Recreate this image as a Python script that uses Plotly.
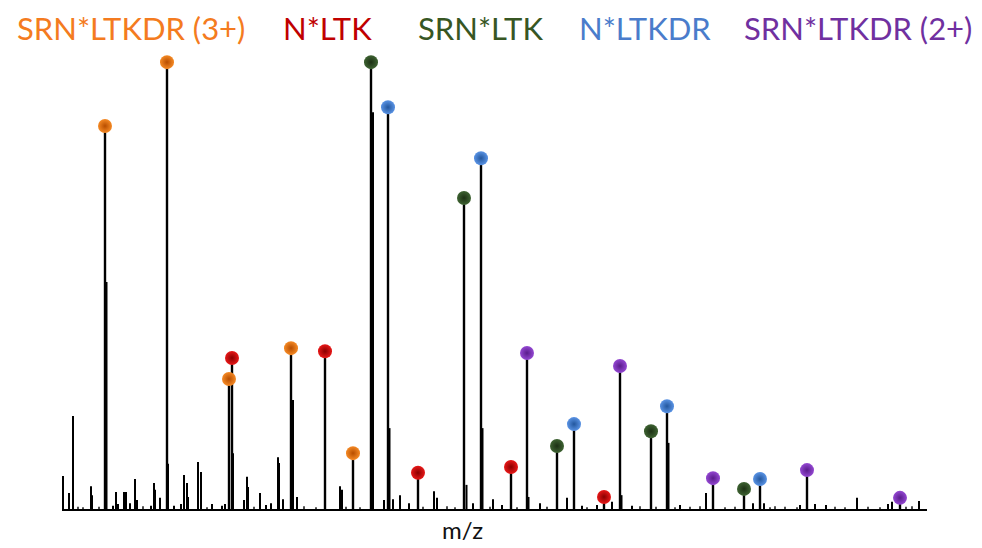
import plotly.graph_objects as go

# ---- Data (m/z in arbitrary units, relative intensity %) ----
series_names = ["SRN*LTKDR (3+)", "N*LTK", "SRN*LTK", "N*LTKDR", "SRN*LTKDR (2+)"]
series_text_colors = ["#F47B20", "#C00000", "#375623", "#4A7CCB", "#7030A0"]
series_dot_colors = ["#F58A25", "#E81818", "#3E6332", "#5A93E4", "#9448D2"]
series_dot_dark = ["#B84E00", "#8A0000", "#1C3014", "#23579E", "#5A1C8C"]

orange_mz = [405, 467, 529, 591, 653]
orange_int = [85.7, 100.0, 29.1, 36.0, 12.5]
red_mz = [532, 625, 718, 811, 904]
red_int = [33.8, 35.3, 8.1, 9.4, 2.7]
green_mz = [671, 764, 857, 951, 1044]
green_int = [100.0, 69.6, 14.1, 17.4, 4.5]
blue_mz = [688, 781, 874, 967, 1060]
blue_int = [89.9, 78.5, 19.0, 23.0, 6.7]
purple_mz = [827, 920, 1013, 1107, 1200]
purple_int = [34.9, 32.0, 6.9, 8.7, 2.5]

iso_mz = [406.5, 468, 533, 593, 673, 689.5, 766.5, 782.5, 828.5, 921.5, 968.5]
iso_int = [50.8, 10.1, 12.5, 24.4, 88.8, 18.1, 5.4, 18.1, 2.7, 3.1, 14.8]

minor_mz = [363, 369, 373, 391, 392, 413, 416, 418, 424, 426, 430, 435, 437, 451, 454,
            455, 460, 474, 481, 484, 487, 488, 498, 501, 512, 522, 525, 544, 547, 548,
            560, 566, 571, 578, 579, 583, 597, 640, 642, 684, 693, 700, 709, 734, 737,
            773, 793, 802, 840, 867, 882, 897, 912, 932, 980, 1006, 1053, 1064, 1100,
            1115, 1126, 1157, 1188, 1192, 1219]
minor_int = [7.4, 3.6, 20.8, 5.1, 3.1, 0.7, 3.8, 1.1, 3.8, 3.8, 1.3, 6.7, 2.0, 0.7, 5.8,
             4.3, 2.5, 0.7, 1.1, 7.6, 5.8, 2.7, 10.5, 8.3, 1.1, 0.7, 1.1, 2.0, 7.2, 4.9,
             3.6, 0.9, 1.3, 11.6, 10.3, 2.2, 2.7, 5.1, 4.3, 2.0, 2.2, 3.1, 1.3, 4.0, 2.5,
             1.3, 2.2, 0.9, 1.3, 2.5, 0.7, 0.9, 1.6, 0.7, 0.9, 3.6, 1.3, 1.3, 0.9,
             1.1, 0.9, 2.5, 1.1, 1.6, 1.8]

noise_mz = [378, 383, 399, 443, 507, 554, 604, 616, 646, 660, 723, 747, 755, 790, 817,
            847, 887, 940, 956, 975, 990, 1000, 1025, 1035, 1070, 1075, 1085, 1097, 1135,
            1145, 1168, 1180, 1206, 1212]
noise_int = [0.5, 0.4, 0.5, 0.6, 0.4, 0.5, 0.6, 0.4, 0.5, 0.4, 0.5, 0.6, 0.4, 0.5, 0.4,
             0.5, 0.4, 0.6, 0.5, 0.4, 0.5, 0.6, 0.4, 0.5, 0.4, 0.6, 0.5, 0.4, 0.5,
             0.4, 0.5, 0.4, 0.5, 0.6]

axis_label = "m/z"

series_mz = [orange_mz, red_mz, green_mz, blue_mz, purple_mz]
series_int = [orange_int, red_int, green_int, blue_int, purple_int]


def sticks(mz_list, int_list):
    xs, ys = [], []
    for m, i in zip(mz_list, int_list):
        xs += [m, m, None]
        ys += [0, i, None]
    return xs, ys


fig = go.Figure()

# small peaks & noise
for mzl, il, w in [(noise_mz, noise_int, 1.4), (minor_mz, minor_int, 2.0), (iso_mz, iso_int, 2.0)]:
    xs, ys = sticks(mzl, il)
    fig.add_trace(go.Scatter(x=xs, y=ys, mode="lines", line=dict(color="black", width=w),
                             hoverinfo="skip", showlegend=False))

# labelled peaks
for mzl, il in zip(series_mz, series_int):
    xs, ys = sticks(mzl, il)
    fig.add_trace(go.Scatter(x=xs, y=ys, mode="lines", line=dict(color="black", width=2.4),
                             hoverinfo="skip", showlegend=False))

# dots
for name, mzl, il, c, cd in zip(series_names, series_mz, series_int, series_dot_colors, series_dot_dark):
    fig.add_trace(go.Scatter(x=mzl, y=il, mode="markers", name=name,
                             marker=dict(size=14, color=c, line=dict(width=0),
                                         gradient=dict(type="radial", color=cd)),
                             showlegend=False))

# header labels
label_centers = [430.5, 627, 780.5, 945, 1157.5]
for name, col, xc in zip(series_names, series_text_colors, label_centers):
    fig.add_annotation(x=xc, xref="x", y=1.06, yref="paper", text=name, showarrow=False,
                       xanchor="center", yanchor="middle",
                       font=dict(family="Lato", size=31, color=col))

fig.add_annotation(x=762, xref="x", y=-0.045, yref="paper", text=axis_label, showarrow=False,
                   xanchor="center", yanchor="middle",
                   font=dict(family="Lato", size=24, color="#111111"))

fig.update_layout(
    width=982, height=548,
    margin=dict(l=62, r=55, t=55, b=39),
    paper_bgcolor="white", plot_bgcolor="white",
    xaxis=dict(range=[362, 1227], showgrid=False, zeroline=False, showticklabels=False,
               ticks="", showline=True, linecolor="black", linewidth=2),
    yaxis=dict(range=[0, 101.6], visible=False, showgrid=False, zeroline=False),
)

fig.write_html("out.html")
